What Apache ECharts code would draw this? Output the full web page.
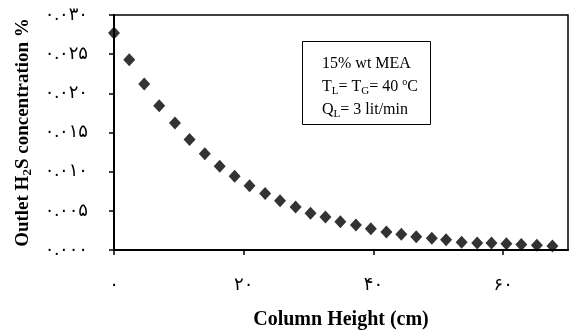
<!DOCTYPE html>
<html>
<head>
<meta charset="utf-8">
<script src="https://cdn.jsdelivr.net/npm/echarts@6/dist/echarts.min.js"></script>
<style>
  html, body { margin: 0; padding: 0; background: #fff; }
  #chart { width: 569px; height: 333px; }
</style>
</head>
<body>
<div id="chart"></div>
<script>
// column height (cm)
var heights = [0, 2.35, 4.66, 6.97, 9.4, 11.65, 14.0, 16.3, 18.6, 20.9,
    23.3, 25.6, 28.0, 30.3, 32.6, 34.9, 37.3, 39.6, 42.0, 44.3,
    46.6, 49.0, 51.2, 53.6, 56.0, 58.2, 60.5, 62.8, 65.2, 67.6];
// outlet H2S concentration %
var outletH2S = [0.0277, 0.0243, 0.0212, 0.0184, 0.0162, 0.0141, 0.0123, 0.0107, 0.0094, 0.0082,
    0.0072, 0.0063, 0.0055, 0.0047, 0.0042, 0.0036, 0.0032, 0.0027, 0.0023, 0.0020,
    0.0017, 0.0015, 0.0013, 0.0010, 0.0009, 0.0009, 0.0008, 0.0007, 0.0006, 0.0005];

var xTickValues = [0, 20, 40, 60];
var xTickLabels = ['۰', '۲۰', '۴۰', '۶۰'];
var yTickValues = [0, 0.005, 0.010, 0.015, 0.020, 0.025, 0.030];
var yTickLabels = ['۰.۰۰۰', '۰.۰۰۵', '۰.۰۱۰', '۰.۰۱۵', '۰.۰۲۰', '۰.۰۲۵', '۰.۰۳۰'];

var serif = "'Liberation Serif', 'Times New Roman', serif";
var digitFont = "'Liberation Serif', 'DejaVu Sans', serif";

var points = heights.map(function (h, i) { return [h, outletH2S[i]]; });

function lookup(vals, labels, v) {
    for (var i = 0; i < vals.length; i++) {
        if (Math.abs(vals[i] - v) < 1e-9) return labels[i];
    }
    return '';
}

var myChart = echarts.init(document.getElementById('chart'));
var option = {
    animation: false,
    grid: {
        left: 114, right: 1, top: 15, bottom: 83,
        outerBoundsMode: 'none',
        containLabel: false,
        show: true, borderColor: '#000', borderWidth: 1.5
    },
    xAxis: {
        type: 'value',
        min: 0, max: 70, interval: 20,
        name: 'Column Height (cm)',
        nameLocation: 'middle',
        nameGap: 60,
        nameTextStyle: { fontFamily: serif, fontWeight: 'bold', fontSize: 20, color: '#000' },
        splitLine: { show: false },
        axisLine: { show: true, lineStyle: { color: '#000', width: 2 } },
        axisTick: { show: true, inside: false, length: 5, customValues: xTickValues, lineStyle: { color: '#000', width: 1.5 } },
        axisLabel: {
            customValues: xTickValues,
            margin: 26,
            fontFamily: digitFont, fontSize: 18, color: '#000',
            formatter: function (v) { return lookup(xTickValues, xTickLabels, v); }
        }
    },
    yAxis: {
        type: 'value',
        min: 0, max: 0.03, interval: 0.005,
        name: '{b|Outlet H}{s|2}{b|S concentration %}',
        nameLocation: 'middle',
        nameGap: 80,
        nameTextStyle: {
            fontFamily: serif, color: '#000',
            rich: {
                b: { fontFamily: serif, fontWeight: 'bold', fontSize: 19, color: '#000' },
                s: { fontFamily: serif, fontWeight: 'bold', fontSize: 13, color: '#000', padding: [9, 0, 0, 0] }
            }
        },
        splitLine: { show: false },
        axisLine: { show: true, lineStyle: { color: '#000', width: 2 } },
        axisTick: { show: true, inside: false, length: 5, lineStyle: { color: '#000', width: 1.5 } },
        axisLabel: {
            margin: 26,
            fontFamily: digitFont, fontSize: 18, color: '#000',
            formatter: function (v) { return lookup(yTickValues, yTickLabels, v); }
        }
    },
    series: [{
        type: 'scatter',
        data: points,
        symbol: 'diamond',
        symbolSize: [12, 13],
        itemStyle: { color: '#000' }
    }],
    graphic: [{
        type: 'rect',
        shape: { x: 302.5, y: 41.5, width: 128, height: 83 },
        style: { fill: '#fff', stroke: '#000', lineWidth: 1 },
        z: 10
    }, {
        type: 'text',
        x: 322, y: 52,
        z: 11,
        style: {
            text: '{t|15% wt MEA}\n{t|T}{s|L}{t|= T}{s|G}{t|= 40 }{p|o}{t|C}\n{t|Q}{s|L}{t|= 3 lit/min}',
            fill: '#000',
            font: '16px ' + serif,
            lineHeight: 23,
            rich: {
                t: { fontFamily: serif, fontSize: 16, fill: '#000', lineHeight: 23 },
                s: { fontFamily: serif, fontSize: 11, fill: '#000', padding: [9, 0, 0, 0], lineHeight: 23 },
                p: { fontFamily: serif, fontSize: 10, fill: '#000', padding: [0, 0, 9, 0], lineHeight: 23 }
            }
        }
    }]
};
myChart.setOption(option);
</script>
</body>
</html>
